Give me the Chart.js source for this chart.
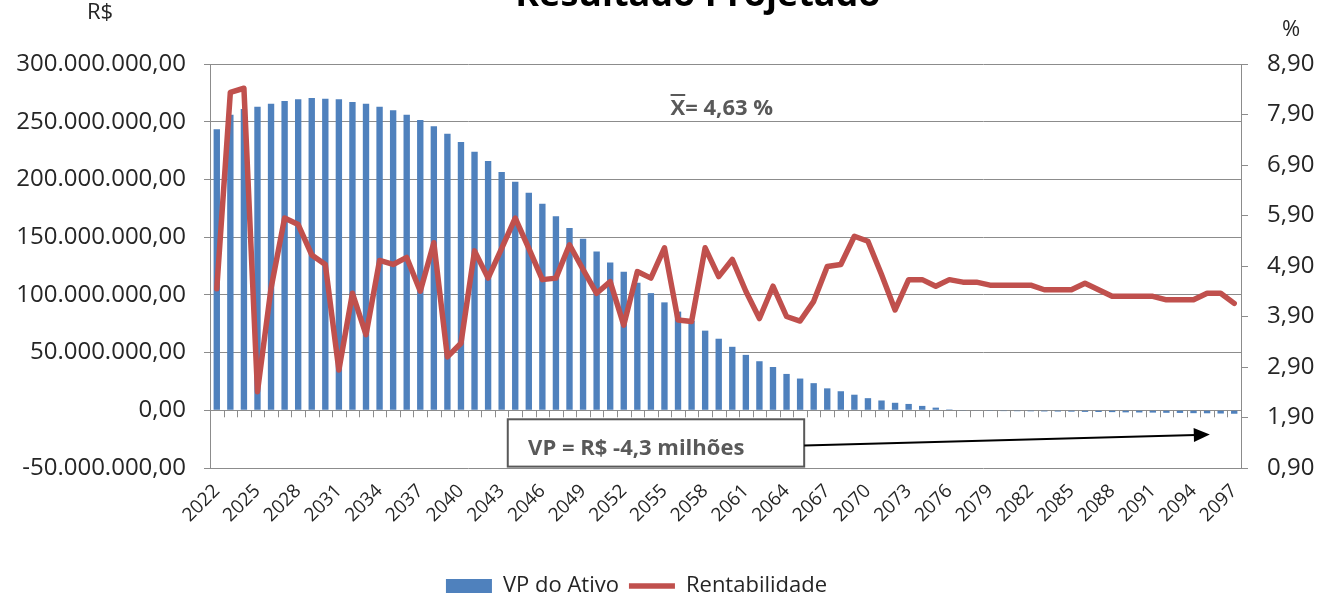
<!DOCTYPE html>
<html lang="pt-BR">
<head>
<meta charset="utf-8">
<title>Resultado Projetado</title>
<script src="https://cdn.jsdelivr.net/npm/chart.js@4.4.1/dist/chart.umd.min.js"></script>
<style>
  html, body { margin: 0; padding: 0; background: #fff; }
  #grafico { display: block; }
</style>
</head>
<body>
<canvas id="grafico" width="1319" height="597"></canvas>
<script>
// --- dados ---

// anos (eixo x)
const anos = [
  '2022','2023','2024','2025','2026','2027','2028','2029','2030','2031',
  '2032','2033','2034','2035','2036','2037','2038','2039','2040','2041',
  '2042','2043','2044','2045','2046','2047','2048','2049','2050','2051',
  '2052','2053','2054','2055','2056','2057','2058','2059','2060','2061',
  '2062','2063','2064','2065','2066','2067','2068','2069','2070','2071',
  '2072','2073','2074','2075','2076','2077','2078','2079','2080','2081',
  '2082','2083','2084','2085','2086','2087','2088','2089','2090','2091',
  '2092','2093','2094','2095','2096','2097'
];

// VP do Ativo, em milhões de R$
const vpAtivo = [
  243.5, 256, 261, 263, 265.5, 268, 269.5, 270.5, 270, 269.5,
  267, 265.5, 263, 260, 256, 251.5, 246, 239.5, 232.5, 224,
  216, 206.5, 198, 188.5, 179, 168, 158, 148.5, 137.5, 128,
  120, 110.5, 101.5, 93.5, 85.5, 77.5, 69, 62, 55, 48,
  42.5, 37.5, 31.5, 27.5, 23.5, 19, 16.5, 13.5, 10.5, 8.5,
  6.5, 5.5, 3.8, 2.3, 0.8, -0.3, -0.5, -0.6, -0.7, -0.8,
  -0.9, -1.0, -1.1, -1.2, -1.4, -1.5, -1.6, -1.8, -1.9, -2.0,
  -2.2, -2.3, -2.5, -2.6, -2.8, -3.0
];

// Rentabilidade, em %
const rentabilidade = [
  4.45, 8.34, 8.42, 2.41, 4.46, 5.85, 5.72, 5.12, 4.93, 2.84,
  4.36, 3.54, 5.01, 4.93, 5.07, 4.40, 5.36, 3.10, 3.37, 5.20,
  4.66, 5.25, 5.85, 5.25, 4.63, 4.66, 5.32, 4.83, 4.36, 4.59,
  3.73, 4.79, 4.66, 5.26, 3.83, 3.80, 5.26, 4.69, 5.03, 4.40,
  3.86, 4.50, 3.90, 3.81, 4.20, 4.89, 4.93, 5.49, 5.39, 4.73,
  4.03, 4.63, 4.63, 4.50, 4.63, 4.58, 4.58, 4.52, 4.52, 4.52,
  4.52, 4.43, 4.43, 4.43, 4.56, 4.43, 4.30, 4.30, 4.30, 4.30,
  4.23, 4.23, 4.23, 4.36, 4.36, 4.16
];

// marcas dos eixos
const ticksEsq = { min: -50, max: 300, passo: 50 };          // milhões de R$
const ticksDir = [0.9, 1.9, 2.9, 3.9, 4.9, 5.9, 6.9, 7.9, 8.9]; // %

// textos
const titulo = 'Resultado Projetado';
const textoMedia = 'X= 4,63 %';
const textoVP = 'VP = R$ -4,3 milhões';

// --- formatação pt-BR ---
function formataReais(milhoes) {
  const n = Math.round(Math.abs(milhoes) * 1e6);
  const inteiro = String(n).replace(/\B(?=(\d{3})+(?!\d))/g, '.');
  return (milhoes < 0 ? '-' : '') + inteiro + ',00';
}
function formataPct(v) {
  return v.toFixed(2).replace('.', ',');
}

const FONTE = '"Open Sans", "Liberation Sans", sans-serif';
const CINZA_GRADE = '#8c8c8c';
const COR_TEXTO = '#262626';

// desenho extra: título, títulos dos eixos, traços no eixo zero, anotações
const extras = {
  id: 'extras',
  beforeDatasetsDraw(chart) {
    const ctx = chart.ctx;
    const x = chart.scales.x, y = chart.scales.y;
    const y0 = y.getPixelForValue(0);
    ctx.save();
    ctx.strokeStyle = CINZA_GRADE;
    ctx.lineWidth = 1;
    ctx.beginPath();
    for (let i = 0; i <= anos.length; i++) {
      const px = Math.round(x.getPixelForValue(i - 0.5)) + 0.5;
      ctx.moveTo(px, y0);
      ctx.lineTo(px, y0 + 7);
    }
    ctx.stroke();
    ctx.restore();
  },
  afterDraw(chart) {
    const ctx = chart.ctx;
    const x = chart.scales.x, y = chart.scales.y;
    ctx.save();

    // título (cortado no topo, como no original)
    ctx.fillStyle = '#000';
    ctx.font = 'bold 36px ' + FONTE;
    ctx.textAlign = 'center';
    ctx.textBaseline = 'alphabetic';
    ctx.fillText(titulo, 698, 6);

    // títulos dos eixos
    ctx.fillStyle = COR_TEXTO;
    ctx.font = '22px ' + FONTE;
    ctx.textBaseline = 'middle';
    ctx.fillText('R$', 100, 13);
    ctx.fillText('%', 1291, 30);

    // média
    ctx.fillStyle = '#595959';
    ctx.font = 'bold 22px ' + FONTE;
    ctx.textAlign = 'left';
    const mx = x.getPixelForValue(33.45);
    const my = y.getPixelForValue(261);
    ctx.fillText(textoMedia, mx, my);
    const largX = ctx.measureText('X').width;
    ctx.strokeStyle = '#595959';
    ctx.lineWidth = 2;
    ctx.beginPath();
    ctx.moveTo(mx, my - 14);
    ctx.lineTo(mx + largX, my - 14);
    ctx.stroke();

    // caixa do VP
    const bx0 = x.getPixelForValue(21.45), bx1 = x.getPixelForValue(43.3);
    const by0 = y.getPixelForValue(-7.8), by1 = y.getPixelForValue(-48.8);
    ctx.fillStyle = '#fff';
    ctx.fillRect(bx0, by0, bx1 - bx0, by1 - by0);
    ctx.strokeStyle = '#595959';
    ctx.lineWidth = 2;
    ctx.strokeRect(bx0, by0, bx1 - bx0, by1 - by0);
    ctx.fillStyle = '#595959';
    ctx.fillText(textoVP, x.getPixelForValue(22.95), y.getPixelForValue(-33));

    // seta
    const ax0 = bx1, ay0 = y.getPixelForValue(-30.5);
    const ax1 = x.getPixelForValue(73.2), ay1 = y.getPixelForValue(-21);
    const ang = Math.atan2(ay1 - ay0, ax1 - ax0);
    ctx.strokeStyle = '#000';
    ctx.fillStyle = '#000';
    ctx.lineWidth = 2;
    ctx.beginPath();
    ctx.moveTo(ax0, ay0);
    ctx.lineTo(ax1 - 14 * Math.cos(ang), ay1 - 14 * Math.sin(ang));
    ctx.stroke();
    ctx.beginPath();
    ctx.moveTo(ax1, ay1);
    ctx.lineTo(ax1 - 16 * Math.cos(ang) + 7 * Math.sin(ang), ay1 - 16 * Math.sin(ang) - 7 * Math.cos(ang));
    ctx.lineTo(ax1 - 16 * Math.cos(ang) - 7 * Math.sin(ang), ay1 - 16 * Math.sin(ang) + 7 * Math.cos(ang));
    ctx.closePath();
    ctx.fill();

    ctx.restore();
  }
};

const ctx = document.getElementById('grafico').getContext('2d');
new Chart(ctx, {
  data: {
    labels: anos,
    datasets: [
      {
        type: 'bar',
        label: 'VP do Ativo',
        data: vpAtivo,
        yAxisID: 'y',
        backgroundColor: '#4F81BD',
        borderWidth: 0,
        barPercentage: 0.47,
        categoryPercentage: 1,
        pointStyle: 'rect',
        order: 1
      },
      {
        type: 'line',
        label: 'Rentabilidade',
        data: rentabilidade,
        yAxisID: 'y1',
        borderColor: '#C0504D',
        backgroundColor: '#C0504D',
        borderWidth: 5.5,
        borderJoinStyle: 'round',
        borderCapStyle: 'round',
        pointRadius: 0,
        pointStyle: 'line',
        tension: 0,
        order: 0
      }
    ]
  },
  options: {
    responsive: false,
    animation: false,
    // esquerda negativa só para centralizar a legenda como no original
    layout: { padding: { top: 64, left: -46, right: 0, bottom: -10 } },
    plugins: {
      tooltip: { enabled: false },
      title: { display: false },
      legend: {
        position: 'bottom',
        labels: {
          usePointStyle: true,
          pointStyleWidth: 46,
          boxHeight: 14,
          padding: 10,
          color: COR_TEXTO,
          font: { family: FONTE, size: 22 },
          sort: (a, b) => a.datasetIndex - b.datasetIndex
        }
      }
    },
    scales: {
      x: {
        position: 'bottom',
        grid: { display: false, drawTicks: false },
        border: { display: false },
        afterFit: s => { s.height = 97; },
        ticks: {
          autoSkip: false,
          minRotation: 45,
          maxRotation: 45,
          padding: 12,
          color: COR_TEXTO,
          font: { family: FONTE, size: 19 },
          callback: (v, i) => (i % 3 === 0 ? anos[i] : '')
        }
      },
      y: {
        position: 'left',
        min: ticksEsq.min,
        max: ticksEsq.max,
        afterFit: s => { s.width = 256; },
        grid: { color: CINZA_GRADE, tickLength: 6, lineWidth: 1 },
        border: { display: true, color: CINZA_GRADE },
        ticks: {
          stepSize: ticksEsq.passo,
          padding: 18,
          color: COR_TEXTO,
          font: { family: FONTE, size: 24 },
          callback: v => formataReais(v)
        }
      },
      y1: {
        position: 'right',
        min: ticksDir[0],
        max: ticksDir[ticksDir.length - 1],
        afterFit: s => { s.width = 78; },
        afterBuildTicks: s => { s.ticks = ticksDir.map(v => ({ value: v })); },
        grid: { drawOnChartArea: false, color: CINZA_GRADE, tickLength: 7 },
        border: { display: true, color: CINZA_GRADE },
        ticks: {
          padding: 19,
          color: COR_TEXTO,
          font: { family: FONTE, size: 24 },
          callback: v => formataPct(v)
        }
      }
    }
  },
  plugins: [extras]
});
</script>
</body>
</html>
